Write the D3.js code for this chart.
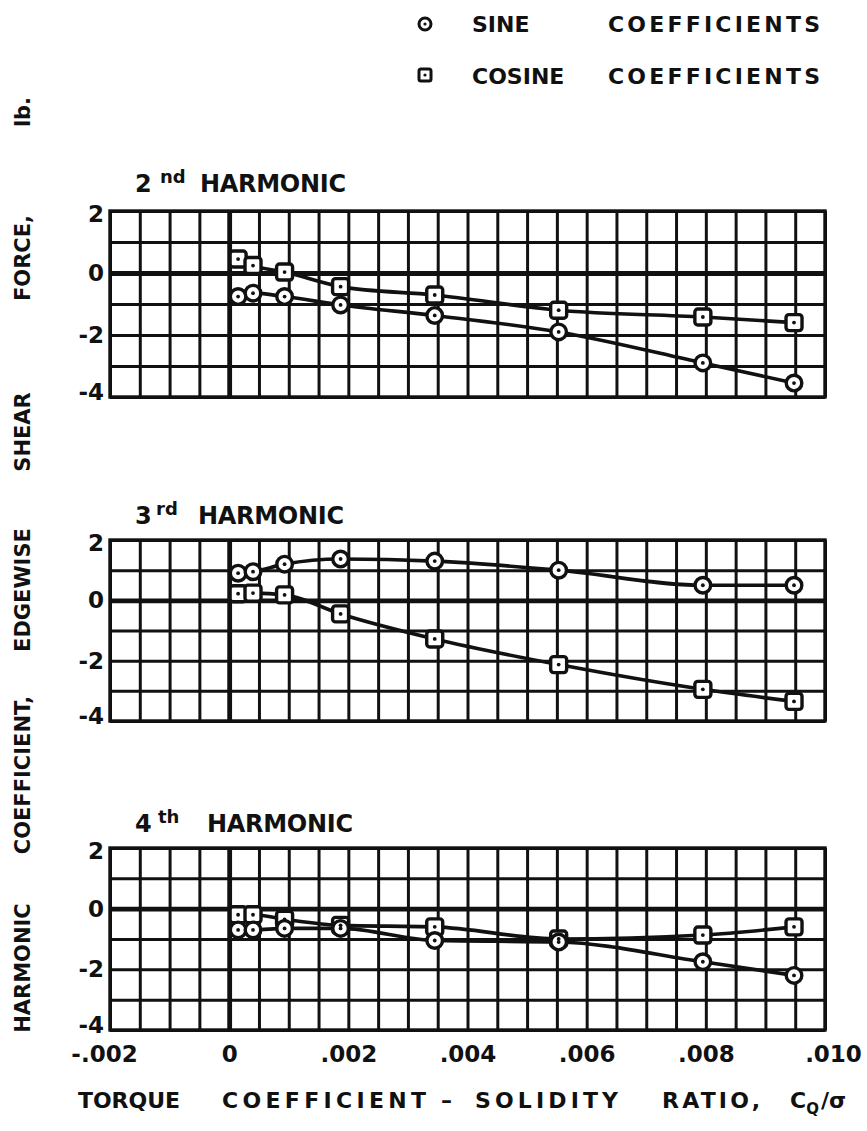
<!DOCTYPE html>
<html>
<head>
<meta charset="utf-8">
<script src="https://cdn.jsdelivr.net/npm/d3@7"></script>
<style>
  body { margin: 0; background: #fff; }
  text { font-family: "DejaVu Sans", sans-serif; font-weight: bold; fill: #111; }
</style>
</head>
<body>
<div class="chart"></div>
<script>
// Data
var torqueRatio = [0.00015, 0.0004, 0.00093, 0.00187, 0.00345, 0.00553, 0.00795, 0.00948];

var sine2nd = [-0.76, -0.65, -0.76, -1.03, -1.37, -1.9, -2.9, -3.55];
var cosine2nd = [0.45, 0.24, 0.03, -0.44, -0.71, -1.2, -1.42, -1.6];

var sine3rd = [0.9, 0.95, 1.2, 1.37, 1.3, 1.0, 0.5, 0.5];
var cosine3rd = [0.22, 0.24, 0.18, -0.45, -1.28, -2.13, -2.95, -3.35];

var sine4th = [-0.7, -0.7, -0.65, -0.65, -1.05, -1.1, -1.75, -2.2];
var cosine4th = [-0.2, -0.2, -0.35, -0.55, -0.6, -1.0, -0.87, -0.6];

var harmonicNumbers = ["2", "3", "4"];
var harmonicSuffixes = ["nd", "rd", "th"];
var xTickValues = [-0.002, 0, 0.002, 0.004, 0.006, 0.008, 0.010];
var yTickValues = [-4, -3, -2, -1, 0, 1, 2];

var yTitleWords = ["HARMONIC", "COEFFICIENT,", "EDGEWISE", "SHEAR", "FORCE,", "lb."];
var xTitleWords = ["TORQUE", "COEFFICIENT", "–", "SOLIDITY", "RATIO,"];

var svgWidth = 867;
var svgHeight = 1131;

var svg = d3.select(".chart")
  .append("svg")
  .attr("width", svgWidth)
  .attr("height", svgHeight);

var xScale = d3.scaleLinear()
  .domain([-0.002, 0.010])
  .range([110, 825]);

// grid every .0005
var xGridValues = d3.range(0, 25).map(function(i) { return -0.002 + i * 0.0005; });

// panel layout (pixels)
var panelBoxes = [
  { top: 211, bottom: 397, titleY: 192, supX: 160, wordX: 200, sine: sine2nd, cosine: cosine2nd },
  { top: 540, bottom: 721, titleY: 524, supX: 156, wordX: 198, sine: sine3rd, cosine: cosine3rd },
  { top: 848, bottom: 1030, titleY: 832, supX: 158, wordX: 207, sine: sine4th, cosine: cosine4th }
];

panelBoxes.forEach(function(box, i) {
  var yScale = d3.scaleLinear()
    .domain([-4, 2])
    .range([box.bottom, box.top]);

  var g = svg.append("g");

  // vertical grid
  var vGrid = g.append("g")
    .attr("transform", `translate(0, ${box.bottom})`)
    .call(d3.axisBottom(xScale)
      .tickValues(xGridValues)
      .tickSize(-(box.bottom - box.top))
      .tickFormat(""));
  vGrid.select(".domain").remove();
  vGrid.selectAll("line")
    .attr("stroke", "#111")
    .attr("stroke-width", function(d) { return Math.abs(d) < 1e-9 ? 4.8 : 3; });

  // horizontal grid + labels
  var hGrid = g.append("g")
    .attr("transform", "translate(110, 0)")
    .call(d3.axisLeft(yScale)
      .tickValues(yTickValues)
      .tickSize(-(825 - 110))
      .tickPadding(6)
      .tickFormat(function(d) { return d % 2 === 0 ? String(d) : ""; }));
  hGrid.select(".domain").remove();
  hGrid.selectAll("line")
    .attr("stroke", "#111")
    .attr("stroke-width", function(d) { return d === 0 ? 4.8 : 3; });
  hGrid.selectAll("text")
    .attr("font-size", "23px")
    .attr("dy", function(d) { return d === -4 ? "0.12em" : (d === 2 ? "0.45em" : "0.32em"); })
    .attr("fill", "#111");

  // frame
  g.append("rect")
    .attr("x", 110)
    .attr("y", box.top)
    .attr("width", 825 - 110)
    .attr("height", box.bottom - box.top)
    .attr("fill", "none")
    .attr("stroke", "#111")
    .attr("stroke-width", 3.4);

  // title
  g.append("text")
    .attr("x", 135)
    .attr("y", box.titleY)
    .attr("font-size", "24px")
    .text(harmonicNumbers[i]);
  g.append("text")
    .attr("x", box.supX)
    .attr("y", box.titleY - 9)
    .attr("font-size", "18px")
    .text(harmonicSuffixes[i]);
  g.append("text")
    .attr("x", box.wordX)
    .attr("y", box.titleY)
    .attr("font-size", "24px")
    .attr("textLength", 146)
    .attr("lengthAdjust", "spacing")
    .text("HARMONIC");

  var line = d3.line()
    .x(function(d) { return xScale(d[0]); })
    .y(function(d) { return yScale(d[1]); })
    .curve(d3.curveMonotoneX);

  var sinePts = torqueRatio.map(function(x, j) { return [x, box.sine[j]]; });
  var cosPts = torqueRatio.map(function(x, j) { return [x, box.cosine[j]]; });

  [sinePts, cosPts].forEach(function(pts) {
    g.append("path")
      .datum(pts)
      .attr("d", line)
      .attr("fill", "none")
      .attr("stroke", "#111")
      .attr("stroke-width", 3.6);
  });

  // cosine squares
  g.selectAll(".sq")
    .data(cosPts)
    .enter()
    .append("rect")
    .attr("x", function(d) { return xScale(d[0]) - 8; })
    .attr("y", function(d) { return yScale(d[1]) - 8; })
    .attr("width", 16)
    .attr("height", 16)
    .attr("rx", 3)
    .attr("fill", "#fff")
    .attr("stroke", "#111")
    .attr("stroke-width", 3.4);

  // sine circles
  g.selectAll(".ci")
    .data(sinePts)
    .enter()
    .append("circle")
    .attr("cx", function(d) { return xScale(d[0]); })
    .attr("cy", function(d) { return yScale(d[1]); })
    .attr("r", 7.8)
    .attr("fill", "#fff")
    .attr("stroke", "#111")
    .attr("stroke-width", 3.4);

  // center dots
  g.selectAll(".dot")
    .data(sinePts.concat(cosPts))
    .enter()
    .append("circle")
    .attr("cx", function(d) { return xScale(d[0]); })
    .attr("cy", function(d) { return yScale(d[1]); })
    .attr("r", 1.9)
    .attr("fill", "#111");

  // x labels on the bottom panel only
  if (i === 2) {
    var xAxis = g.append("g")
      .attr("transform", `translate(0, ${box.bottom})`)
      .call(d3.axisBottom(xScale)
        .tickValues(xTickValues)
        .tickSize(0)
        .tickPadding(16)
        .tickFormat(function(d) {
          if (Math.abs(d) < 1e-9) return "0";
          return d3.format(".3f")(d).replace("\u2212", "-").replace("0.", ".");
        }));
    xAxis.select(".domain").remove();
    xAxis.selectAll("text")
      .attr("font-size", "23px")
      .attr("dx", function(d) { return d > 0.009 ? 8 : (d < -0.001 ? -6 : 0); })
      .attr("fill", "#111");
  }
});

// Legend
var legend = svg.append("g");
legend.append("circle")
  .attr("cx", 425).attr("cy", 24).attr("r", 6)
  .attr("fill", "#fff").attr("stroke", "#111").attr("stroke-width", 3);
legend.append("circle")
  .attr("cx", 425).attr("cy", 24).attr("r", 1.6).attr("fill", "#111");
legend.append("rect")
  .attr("x", 419).attr("y", 69).attr("width", 12).attr("height", 12).attr("rx", 2)
  .attr("fill", "#fff").attr("stroke", "#111").attr("stroke-width", 3);
legend.append("circle")
  .attr("cx", 425).attr("cy", 75).attr("r", 1.6).attr("fill", "#111");

legend.append("text").attr("x", 472).attr("y", 32).attr("font-size", "22px").text("SINE");
legend.append("text").attr("x", 608).attr("y", 32).attr("font-size", "22px")
  .attr("textLength", 212).attr("lengthAdjust", "spacing").text("COEFFICIENTS");
legend.append("text").attr("x", 472).attr("y", 84).attr("font-size", "22px").text("COSINE");
legend.append("text").attr("x", 608).attr("y", 84).attr("font-size", "22px")
  .attr("textLength", 212).attr("lengthAdjust", "spacing").text("COEFFICIENTS");

// y axis title, one word at a time (centre positions along the axis)
var yWordCentres = [968, 775, 590, 432, 258, 112];
svg.selectAll(".ytitle")
  .data(yTitleWords)
  .enter()
  .append("text")
  .attr("transform", function(d, k) { return `translate(30, ${yWordCentres[k]}) rotate(-90)`; })
  .attr("text-anchor", "middle")
  .attr("font-size", "21px")
  .text(function(d) { return d; });

// x axis title
var xWordStarts = [78, 222, 441, 475, 662];
var xWordWidths = [102, 204, 15, 143, 98];
svg.selectAll(".xtitle")
  .data(xTitleWords)
  .enter()
  .append("text")
  .attr("x", function(d, k) { return xWordStarts[k]; })
  .attr("y", 1108)
  .attr("font-size", "22px")
  .attr("textLength", function(d, k) { return xWordWidths[k]; })
  .attr("lengthAdjust", "spacing")
  .text(function(d) { return d; });

var cq = svg.append("text")
  .attr("x", 790)
  .attr("y", 1108)
  .attr("font-size", "22px");
cq.append("tspan").text("C");
cq.append("tspan").attr("dy", 6).attr("font-size", "15px").text("Q");
cq.append("tspan").attr("dy", -6).attr("dx", 2).text("/σ");
</script>
</body>
</html>
